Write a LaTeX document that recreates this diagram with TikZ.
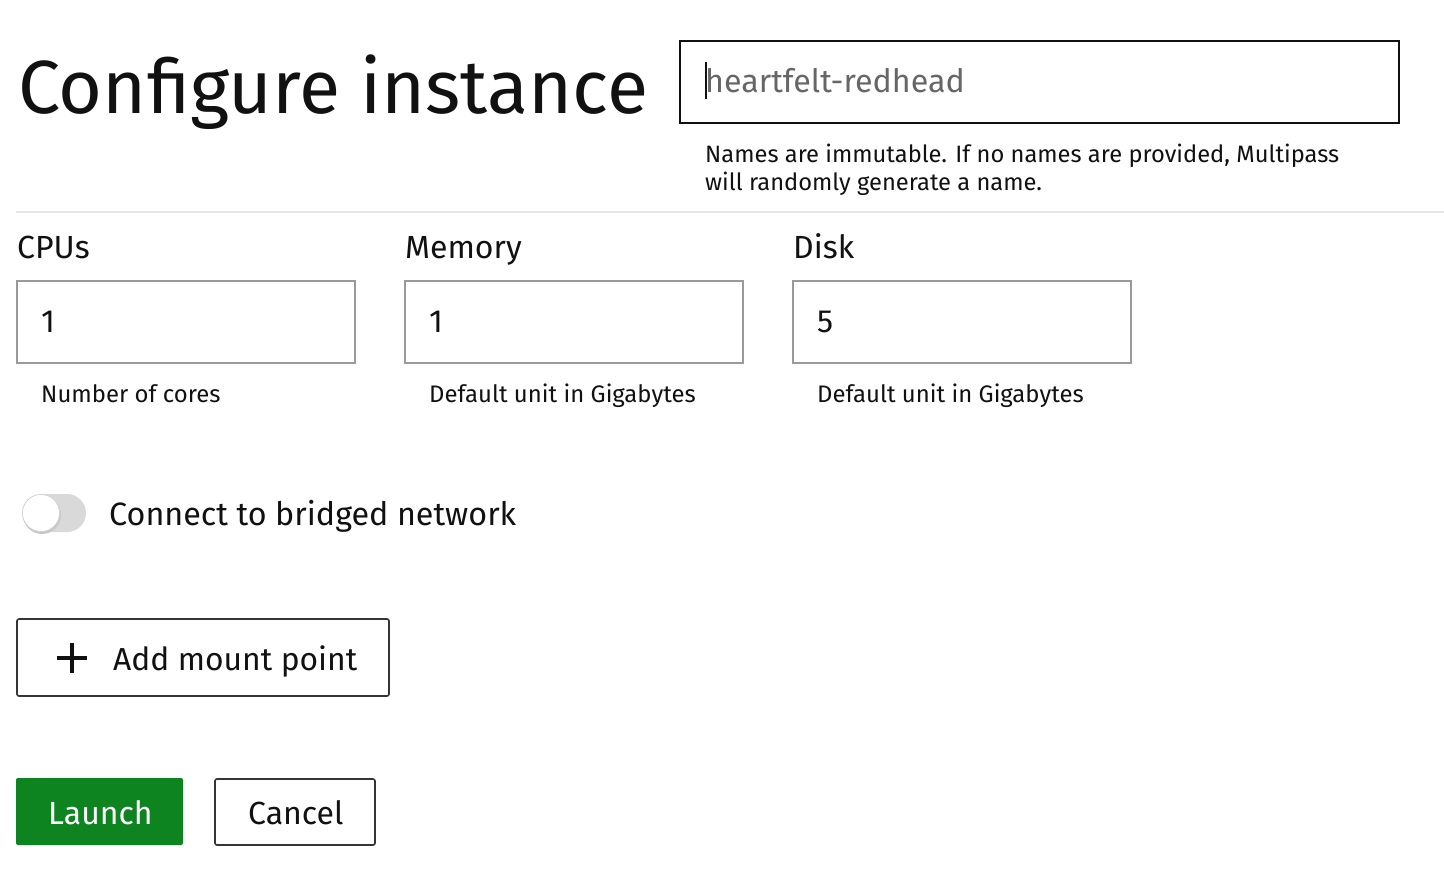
\documentclass[tikz,border=0pt]{standalone}
\usepackage{fontspec}
\setmainfont{Fira Sans}
\definecolor{ink}{HTML}{111111}
\definecolor{ph}{HTML}{666666}
\definecolor{sep}{HTML}{E5E5E5}
\definecolor{fieldb}{HTML}{9A9A9A}
\definecolor{green}{HTML}{0E8420}
\definecolor{tog}{HTML}{D9D9D9}
\newcommand{\fs}[1]{\fontsize{#1}{#1}\selectfont}
\tikzset{
  txt/.style={anchor=base west, inner sep=0pt, text=ink},
  field/.style={draw=fieldb, line width=1.5pt},
  btn/.style={draw=ink!85, line width=1.6pt, rounded corners=2pt},
}
\begin{document}
\begin{tikzpicture}[x=1pt,y=-1pt]
\useasboundingbox[fill=white] (0,0) rectangle (1444,886);
% title
\node[txt] (title) at (18,113) {\fs{75.3}Configure instance};
% name field
\draw[line width=2pt, draw=ink] (680,41) rectangle (1399,123);
\node[txt, text=ph] (name) at (705,92) {\fs{32.2}heartfelt-redhead};
\draw[line width=1.8pt, ink] (706,62) -- (706,99);
\node[txt] (help1) at (705,162) {\fs{23.7}Names are immutable. If no names are provided, Multipass};
\node[txt] (help2) at (705,190) {\fs{23.7}will randomly generate a name.};
% separator
\draw[sep, line width=1.5pt] (16,212) -- (1444,212);
% labels
\node[txt] (lcpu) at (17,258) {\fs{32}CPUs};
\node[txt] (lmem) at (405,258) {\fs{32}Memory};
\node[txt] (ldisk) at (793,258) {\fs{32}Disk};
% fields
\draw[field] (17,281) rectangle (355,363);
\draw[field] (405,281) rectangle (743,363);
\draw[field] (793,281) rectangle (1131,363);
\node[txt] (vcpu) at (41,332) {\fs{32}1};
\node[txt] (vmem) at (429,332) {\fs{32}1};
\node[txt] (vdisk) at (817,332) {\fs{32}5};
\node[txt] (hcpu) at (41,402) {\fs{23.9}Number of cores};
\node[txt] (hmem) at (429,402) {\fs{23.9}Default unit in Gigabytes};
\node[txt] (hdisk) at (817,402) {\fs{23.9}Default unit in Gigabytes};
% toggle
\fill[tog, rounded corners=19pt] (22,494) rectangle (86,532);
\fill[black!22] (42,515) circle[radius=19];
\filldraw[fill=white, draw=black!18, line width=0.6pt] (41,513) circle[radius=18.5];
\node[txt] (ltog) at (109,525) {\fs{32.3}Connect to bridged network};
% add mount point
\draw[btn] (17,619) rectangle (389,696);
\draw[line width=3.2pt, ink] (57,658) -- (87,658) (72,643) -- (72,673);
\node[txt] (mount) at (113,670) {\fs{31.8}Add mount point};
% launch / cancel
\fill[green, rounded corners=2pt] (16,778) rectangle (183,845);
\node[txt, text=white] (launch) at (48,824) {\fs{32}Launch};
\draw[btn] (215,779) rectangle (375,845);
\node[txt] (cancel) at (248,824) {\fs{32}Cancel};
\end{tikzpicture}
\end{document}
